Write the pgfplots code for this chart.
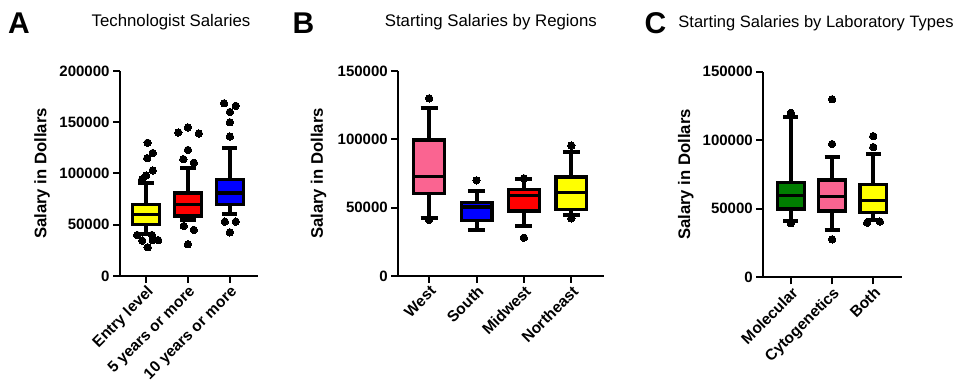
\documentclass[border=0pt]{standalone}
\usepackage{fontspec}
\setmainfont{Liberation Sans}
\usepackage{pgfplots}
\pgfplotsset{compat=1.18}
\definecolor{mypink}{RGB}{250,100,145}
\definecolor{mygreen}{RGB}{0,125,0}
\definecolor{myyellow}{RGB}{255,255,0}
\definecolor{myred}{RGB}{255,0,0}
\definecolor{myblue}{RGB}{0,0,255}
% values in thousands of dollars
\pgfplotsset{
 panel/.style={
  scale only axis, axis lines=left, axis line style={line width=2pt,-},
  ymin=0,
  tick align=outside, major tick length=7pt, tick style={black, line width=2pt},
  yticklabel style={font=\fontsize{15}{18}\selectfont\bfseries},
  xticklabel style={font=\fontsize{15.5}{18}\selectfont\bfseries, rotate=45, anchor=north east, inner sep=1pt},
  ylabel={Salary in Dollars},
  ylabel style={font=\fontsize{16.7}{20}\selectfont\bfseries, anchor=center},
  clip=false,
 },
 pts/.style={only marks, mark=*, mark size=3.7pt, black, mark options={solid, fill=black, draw=black, line width=0pt}},
}
% \bxp{position}{colour}{lower whisker}{Q1}{median}{Q3}{upper whisker}
\newcommand{\bxp}[7]{%
 \pgfmathsetmacro\bxL{#1-0.325}\pgfmathsetmacro\bxR{#1+0.325}%
 \pgfmathsetmacro\cpL{#1-0.18}\pgfmathsetmacro\cpR{#1+0.18}%
 \addplot[black, line width=4pt, forget plot] coordinates {(#1,#3) (#1,#4)};
 \addplot[black, line width=4pt, forget plot] coordinates {(#1,#6) (#1,#7)};
 \addplot[black, line width=4pt, forget plot] coordinates {(\cpL,#3) (\cpR,#3)};
 \addplot[black, line width=4pt, forget plot] coordinates {(\cpL,#7) (\cpR,#7)};
 \addplot[fill=#2, draw=black, line width=3.2pt, line join=miter, forget plot] coordinates {(\bxL,#4) (\bxR,#4) (\bxR,#6) (\bxL,#6)} --cycle;
 \addplot[black, line width=3.2pt, forget plot] coordinates {(\bxL,#5) (\bxR,#5)};
}
\begin{document}
\begin{tikzpicture}
\useasboundingbox (0pt,0pt) rectangle (963pt,387pt);
% Panel letters and titles
\node[anchor=base west, font=\fontsize{30}{32}\selectfont\bfseries, inner sep=0] at (8pt,353.7pt) {A};
\node[anchor=base west, font=\fontsize{30}{32}\selectfont\bfseries, inner sep=0] at (292.3pt,353.7pt) {B};
\node[anchor=base west, font=\fontsize{30}{32}\selectfont\bfseries, inner sep=0] at (644.5pt,353.7pt) {C};
\node[anchor=base, font=\fontsize{16.8}{20}\selectfont, inner sep=0] at (171pt,360.3pt) {Technologist Salaries};
\node[anchor=base, font=\fontsize{16.8}{20}\selectfont, inner sep=0] at (490.8pt,360.3pt) {Starting Salaries by Regions};
\node[anchor=base, font=\fontsize{16.5}{20}\selectfont, inner sep=0] at (816pt,359.7pt) {Starting Salaries by Laboratory Types};

% Panel A
\begin{axis}[panel, at={(120pt,111pt)}, anchor=south west, width=138pt, height=205pt,
  xmin=-0.62, xmax=2.67, ymax=200, ytick={0,50,100,150,200},
  yticklabels={0,50000,100000,150000,200000},
  xtick={0,1,2}, xticklabels={Entry level,5 years or more,10 years or more},
  ylabel style={at={(axis description cs:-0.565,0.5)}}]
\bxp{0}{myyellow}{41}{50}{60}{70}{91}
\bxp{1}{myred}{55}{58.5}{70}{81}{105}
\bxp{2}{myblue}{60}{70}{81}{94}{125}
\addplot[pts] coordinates {
 (0.04,130) (0.16,120) (0.03,115) (0.16,103) (0.0,98) (-0.09,94.5)
 (-0.21,40) (0.14,40) (-0.09,34.5) (0.29,35) (0.16,35) (0.04,28)};
\addplot[pts] coordinates {
 (0.77,140) (1.0,145) (1.26,139) (1.0,123) (0.89,114) (1.14,110.5)
 (0.9,48.8) (1.14,45) (1.0,31)};
\addplot[pts] coordinates {
 (1.86,168.5) (2.14,166) (2.0,160) (2.0,150) (2.0,136)
 (1.88,53) (2.14,53) (2.0,42.6)};
\end{axis}

% Panel B
\begin{axis}[panel, at={(398.3pt,111pt)}, anchor=south west, width=205.7pt, height=205pt,
  xmin=-0.65, xmax=3.69, ymax=150, ytick={0,50,100,150},
  yticklabels={0,50000,100000,150000},
  xtick={0,1,2,3}, xticklabels={West,South,Midwest,Northeast},
  ylabel style={at={(axis description cs:-0.388,0.5)}}]
\bxp{0}{mypink}{42.5}{60.5}{72.7}{99.5}{122.7}
\bxp{1}{myblue}{34}{40.5}{50.5}{54}{62.4}
\bxp{2}{myred}{36.8}{47.6}{58.8}{63}{70.7}
\bxp{3}{myyellow}{44.6}{48.8}{61.2}{72.4}{91}
\addplot[pts] coordinates {(0,130) (0,41) (1,70) (2,71.5) (2,28) (3,95.4) (3,42.2)};
\end{axis}

% Panel C
\begin{axis}[panel, at={(763.3pt,109.7pt)}, anchor=south west, width=138.4pt, height=205.6pt,
  xmin=-0.67, xmax=2.69, ymax=150, ytick={0,50,100,150},
  yticklabels={0,50000,100000,150000},
  xtick={0,1,2}, xticklabels={Molecular,Cytogenetics,Both},
  ylabel style={at={(axis description cs:-0.56,0.5)}}]
\bxp{0}{mygreen}{41}{49.8}{59.5}{69.3}{117}
\bxp{1}{mypink}{34.3}{48.4}{58.8}{71}{88}
\bxp{2}{myyellow}{41.8}{47.4}{55.9}{67.6}{90.2}
\addplot[pts] coordinates {(0,120) (0,39.4) (1,129.9) (1,97.2) (1,27.7) (2,103) (2,95) (1.85,39.8) (2.16,40.6)};
\end{axis}
\end{tikzpicture}
\end{document}
